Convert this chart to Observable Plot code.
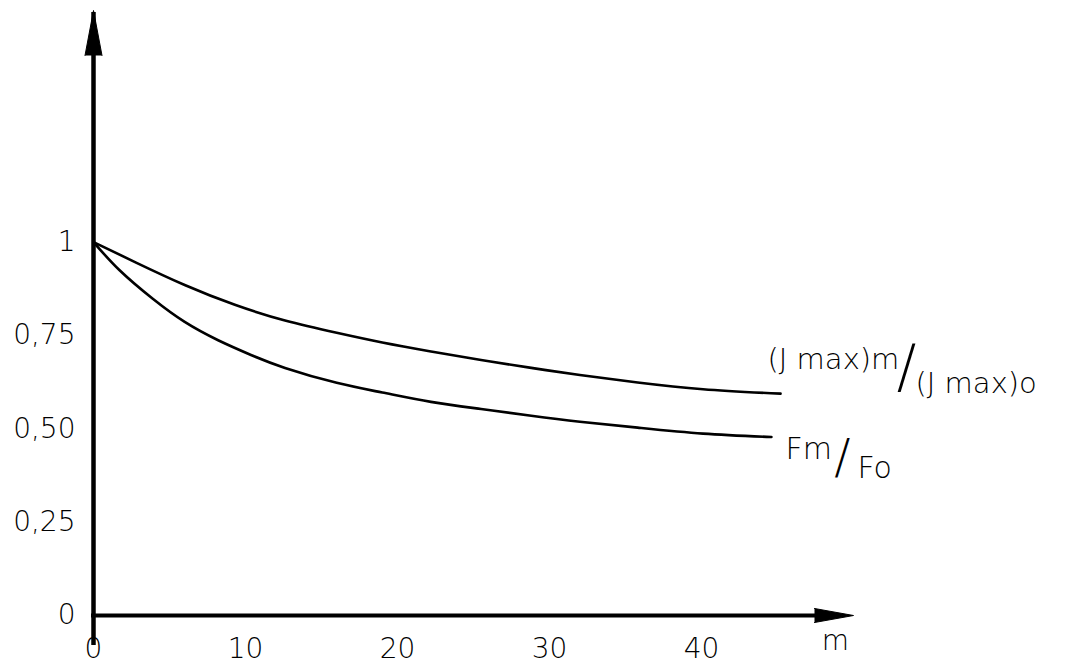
<!DOCTYPE html>
<html>
<head>
<meta charset="utf-8">
<script src="https://cdn.jsdelivr.net/npm/d3@7"></script>
<script src="https://cdn.jsdelivr.net/npm/@observablehq/plot@0.6"></script>
<style>
  html, body { margin: 0; padding: 0; background: #fff; }
  #chart svg { display: block; }
</style>
</head>
<body>
<div id="chart"></div>
<script>
// ---- data ----
const mUpper = [0, 2.8, 6, 9.3, 12.6, 16, 19, 22.2, 25.5, 28.8, 32, 35.8, 40.1, 45.2];
const jUpper = [1, 0.945, 0.885, 0.832, 0.79, 0.757, 0.731, 0.707, 0.684, 0.663, 0.644, 0.624, 0.606, 0.594];

const mLower = [0, 1.7, 3.9, 6, 8.2, 10.4, 12.6, 16, 19, 22.2, 25.5, 28.8, 32, 35.8, 40.1, 44.6];
const fLower = [1, 0.925, 0.848, 0.786, 0.737, 0.697, 0.663, 0.623, 0.597, 0.572, 0.553, 0.535, 0.519, 0.503, 0.487, 0.478];

const xTicks = [0, 10, 20, 30, 40];
const yTicks = [0, 0.25, 0.5, 0.75, 1];
const yTickLabels = ["0", "0,25", "0,50", "0,75", "1"];
const xAxisTitle = "m";
const upperLabel = ["(J max)m", "/", "(J max)o"];
const lowerLabel = ["Fm", "/", "Fo"];

const xDomain = [0, 50];
const yDomain = [0, 1.62];

// ---- build tables ----
const upper = mUpper.map((m, i) => ({m, v: jUpper[i]}));
const lower = mLower.map((m, i) => ({m, v: fLower[i]}));
const upperEnd = [upper[upper.length - 1]];
const lowerEnd = [lower[lower.length - 1]];
const origin = [{m: xDomain[0], v: yDomain[0]}];
const yTop = [{m: xDomain[0], v: yDomain[1]}];
const xEnd = [{m: xDomain[1], v: yDomain[0]}];

const font = "'DejaVu Sans', sans-serif";

const chart = Plot.plot({
  width: 1069,
  height: 667,
  marginLeft: 93,
  marginRight: 216,
  marginTop: 10,
  marginBottom: 52,
  x: {domain: xDomain, label: null},
  y: {domain: yDomain, label: null},
  style: {fontFamily: font, fontSize: "28px", fontWeight: 200, color: "black", background: "white"},
  marks: [
    // axes lines
    Plot.ruleX(origin, {x: "m", y1: yDomain[0], y2: yDomain[1], insetTop: 30, insetBottom: -2, strokeWidth: 4.5, stroke: "black"}),
    Plot.ruleY(origin, {y: "v", x1: xDomain[0], x2: xDomain[1], insetRight: 25, insetLeft: -2, strokeWidth: 4, stroke: "black"}),
    // arrowheads
    Plot.vector(yTop, {x: "m", y: "v", shape: "spike", anchor: "end", length: 45, r: 8.5, rotate: 0, fill: "black", stroke: "black", strokeWidth: 1}),
    Plot.vector(xEnd, {x: "m", y: "v", shape: "spike", anchor: "end", length: 39, r: 7, rotate: 90, fill: "black", stroke: "black", strokeWidth: 1}),
    // tick labels
    Plot.axisX(xTicks, {tickSize: 0, tickPadding: 23, fontWeight: 200}),
    Plot.axisY(yTicks, {tickSize: 0, tickPadding: 18, fontWeight: 200, tickFormat: d => yTickLabels[yTicks.indexOf(d)]}),
    Plot.text(xEnd, {x: "m", y: "v", text: () => xAxisTitle, dx: -18, dy: 26, textAnchor: "middle"}),
    // curves
    Plot.line(upper, {x: "m", y: "v", curve: "natural", stroke: "black", strokeWidth: 2.6}),
    Plot.line(lower, {x: "m", y: "v", curve: "natural", stroke: "black", strokeWidth: 2.6}),
    // curve labels
    Plot.text(upperEnd, {x: "m", y: "v", text: () => upperLabel[0], textAnchor: "start", dx: -13, dy: -34, fontSize: 29}),
    Plot.text(upperEnd, {x: "m", y: "v", text: () => upperLabel[1], textAnchor: "middle", dx: 126, dy: -25, fontSize: 58}),
    Plot.text(upperEnd, {x: "m", y: "v", text: () => upperLabel[2], textAnchor: "start", dx: 135, dy: -10, fontSize: 29}),
    Plot.text(lowerEnd, {x: "m", y: "v", text: () => lowerLabel[0], textAnchor: "start", dx: 14, dy: 12, fontSize: 30}),
    Plot.text(lowerEnd, {x: "m", y: "v", text: () => lowerLabel[1], textAnchor: "middle", dx: 71, dy: 21, fontSize: 48}),
    Plot.text(lowerEnd, {x: "m", y: "v", text: () => lowerLabel[2], textAnchor: "start", dx: 86, dy: 31, fontSize: 30})
  ]
});
document.getElementById("chart").append(chart);
</script>
</body>
</html>
